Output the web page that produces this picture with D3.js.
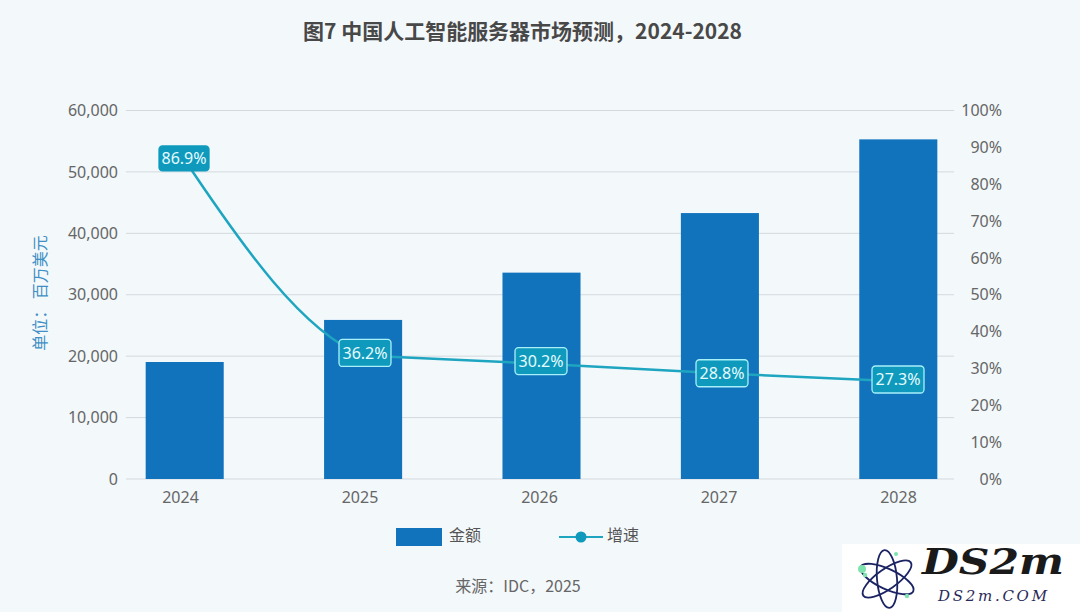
<!DOCTYPE html>
<html>
<head>
<meta charset="utf-8">
<script src="https://cdn.jsdelivr.net/npm/d3@7"></script>
<style>
  html, body { margin: 0; padding: 0; background: #f3f8fb; }
  svg { display: block; }
  text { font-family: "Noto Sans CJK SC", "Noto Sans", sans-serif; }
</style>
</head>
<body>
<div id="chart"></div>
<script>
const years = ["2024", "2025", "2026", "2027", "2028"];
const amounts = [19050, 25900, 33600, 43300, 55300];
// where the line and the boxes sit in the picture, neither quite follows the printed labels
const growthLine = [86.9, 33.5, 31.3, 28.7, 26.5];
const labelLevels = [87.0, 34.2, 32.0, 28.7, 27.0];
const growthLabels = ["86.9%", "36.2%", "30.2%", "28.8%", "27.3%"];
const amountTicks = [0, 10000, 20000, 30000, 40000, 50000, 60000];
const percentTicks = [0, 10, 20, 30, 40, 50, 60, 70, 80, 90, 100];

const width = 1080, height = 612;
const plot = {left: 126, right: 954, top: 110.5, bottom: 479};

const barColor = "#1273bd";
const lineColor = "#1ea5c0";
const labelFill = "#0f9abd";
const textColor = "#666666";

const svg = d3.select("#chart")
  .append("svg")
  .attr("width", width)
  .attr("height", height);

svg.append("rect")
  .attr("width", width)
  .attr("height", height)
  .attr("fill", "#f3f8fb");

// title
svg.append("text")
  .attr("x", 522.5)
  .attr("y", 39)
  .attr("text-anchor", "middle")
  .attr("font-size", 21)
  .attr("font-weight", 700)
  .attr("fill", "#484848")
  .text("图7 中国人工智能服务器市场预测，2024-2028");

// scales
const x = d3.scaleBand()
  .domain(years)
  .range([95.5, 987.5])
  .paddingInner(0.5625)
  .paddingOuter(0.28125);
const xLine = d3.scalePoint()
  .domain(years)
  .range([184, 898]);
// tick labels sit a little off the bars in the original
const xTicks = d3.scalePoint()
  .domain(years)
  .range([180, 898]);
const y = d3.scaleLinear()
  .domain([0, 60000])
  .range([plot.bottom, plot.top]);
const yRight = d3.scaleLinear()
  .domain([0, 100])
  .range([plot.bottom, plot.top]);

// grid
svg.append("g")
  .selectAll("line")
  .data(amountTicks)
  .enter().append("line")
  .attr("x1", plot.left)
  .attr("x2", plot.right)
  .attr("y1", d => y(d))
  .attr("y2", d => y(d))
  .attr("stroke", "#d3d9dd")
  .attr("stroke-width", 1);

// axes
const styleAxis = function (g) {
  g.select(".domain").remove();
  g.selectAll(".tick line").remove();
  g.selectAll("text")
    .attr("font-size", 16)
    .attr("fill", textColor)
    .style("font-family", '"Noto Sans", sans-serif');
};

svg.append("g")
  .attr("transform", "translate(126,0)")
  .call(d3.axisLeft(y).tickValues(amountTicks).tickFormat(d3.format(",")).tickSize(0).tickPadding(8))
  .call(styleAxis);

svg.append("g")
  .attr("transform", "translate(1002,0)")
  .call(d3.axisLeft(yRight).tickValues(percentTicks).tickFormat(d => d + "%").tickSize(0).tickPadding(0))
  .call(styleAxis);

svg.append("g")
  .attr("transform", "translate(0,479)")
  .call(d3.axisBottom(xTicks).tickSize(0).tickPadding(13))
  .call(styleAxis);

// y axis title
svg.append("text")
  .attr("transform", "translate(46,293) rotate(-90)")
  .attr("text-anchor", "middle")
  .attr("font-size", 16)
  .attr("fill", "#3f8fc4")
  .text("单位： 百万美元");

// bars
svg.append("g")
  .selectAll("rect")
  .data(years)
  .enter().append("rect")
  .attr("x", d => x(d))
  .attr("y", (d, i) => y(amounts[i]))
  .attr("width", x.bandwidth())
  .attr("height", (d, i) => y(0) - y(amounts[i]))
  .attr("fill", barColor);

// growth line
// the first stretch drops in one long bend and the 2025 box hides a kink,
// so it gets its own bezier and the flat rest goes through d3.line
const x0 = xLine(years[0]), x1 = xLine(years[1]);
const y0 = yRight(growthLine[0]), y1 = yRight(growthLine[1]);
const third = (x1 - x0) / 3;
const drop = d3.path();
drop.moveTo(x0, y0);
drop.bezierCurveTo(x0 + third, y0 + third * 1.5, x1 - third, y1 - third * 0.4, x1, y1);

const line = d3.line()
  .x((d, i) => xLine(years[i + 1]))
  .y(d => yRight(d))
  .curve(d3.curveMonotoneX);

svg.append("path")
  .attr("d", drop.toString() + line(growthLine.slice(1)))
  .attr("fill", "none")
  .attr("stroke", lineColor)
  .attr("stroke-width", 2.5);

// value labels, the 2025 and 2027 boxes are pushed a bit right in the original
const labels = svg.append("g")
  .selectAll("g")
  .data(growthLabels)
  .enter().append("g")
  .attr("transform", (d, i) => "translate(" + (xLine(years[i]) + (i % 2 ? 2.5 : 0)) + "," + yRight(labelLevels[i]) + ")");

labels.append("rect")
  .attr("x", (d, i) => i === 0 ? -25 : -26)
  .attr("y", (d, i) => i === 0 ? -12.5 : -13.5)
  .attr("width", (d, i) => i === 0 ? 50 : 52)
  .attr("height", (d, i) => i === 0 ? 25 : 27)
  .attr("rx", 3.5)
  .attr("fill", labelFill)
  .attr("stroke", (d, i) => i === 0 ? labelFill : "#a8f0fa")
  .attr("stroke-width", 1.3);

labels.append("text")
  .attr("text-anchor", "middle")
  .attr("dy", "0.36em")
  .attr("font-size", 16)
  .attr("fill", "#e6fbff")
  .style("font-family", '"Noto Sans", sans-serif')
  .text(d => d);

// legend
const legendColor = "#555555";
svg.append("rect")
  .attr("x", 396)
  .attr("y", 528)
  .attr("width", 46)
  .attr("height", 18)
  .attr("fill", barColor);
svg.append("text")
  .attr("x", 449)
  .attr("y", 541)
  .attr("font-size", 16)
  .attr("fill", legendColor)
  .text("金额");
svg.append("line")
  .attr("x1", 559)
  .attr("x2", 603)
  .attr("y1", 537)
  .attr("y2", 537)
  .attr("stroke", lineColor)
  .attr("stroke-width", 2);
svg.append("circle")
  .attr("cx", 581)
  .attr("cy", 537)
  .attr("r", 5.5)
  .attr("fill", labelFill);
svg.append("text")
  .attr("x", 607)
  .attr("y", 541)
  .attr("font-size", 16)
  .attr("fill", legendColor)
  .text("增速");

// source
svg.append("text")
  .attr("x", 518)
  .attr("y", 592)
  .attr("text-anchor", "middle")
  .attr("font-size", 16)
  .attr("fill", textColor)
  .text("来源：IDC，2025");

// watermark, bottom right corner
const mark = svg.append("g");
mark.append("rect")
  .attr("x", 842)
  .attr("y", 544)
  .attr("width", 238)
  .attr("height", 68)
  .attr("fill", "#ffffff");

const atom = mark.append("g").attr("transform", "translate(887,579)");
[25, 85, 145].forEach(angle => {
  atom.append("ellipse")
    .attr("rx", 29)
    .attr("ry", 10)
    .attr("transform", "rotate(" + angle + ")")
    .attr("fill", "none")
    .attr("stroke", "#1b2363")
    .attr("stroke-width", 1.8);
});
[[-25, -10, 4], [-22, -4, 2.2], [9, -25, 2], [20, 17, 2.2]].forEach(p => {
  atom.append("circle")
    .attr("cx", p[0])
    .attr("cy", p[1])
    .attr("r", p[2])
    .attr("fill", "#7fe3ae");
});

mark.append("text")
  .attr("x", 922)
  .attr("y", 574)
  .attr("font-size", 35)
  .attr("font-weight", 700)
  .attr("font-style", "italic")
  .attr("fill", "#1a1a1a")
  .attr("textLength", 142)
  .attr("lengthAdjust", "spacingAndGlyphs")
  .style("font-family", '"DejaVu Serif", serif')
  .text("DS2m");

mark.append("text")
  .attr("x", 938)
  .attr("y", 601)
  .attr("font-size", 15)
  .attr("font-style", "italic")
  .attr("fill", "#2a2a5a")
  .attr("textLength", 109)
  .style("font-family", '"DejaVu Serif", serif')
  .text("DS2m.COM");
</script>
</body>
</html>
